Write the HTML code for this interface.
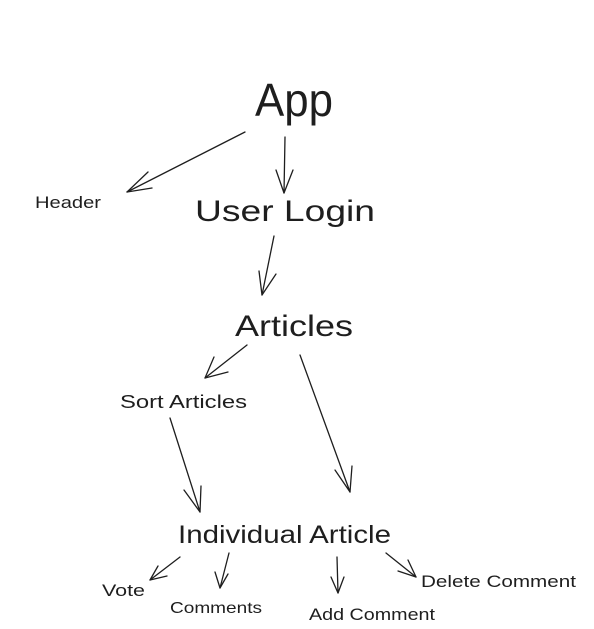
<!DOCTYPE html>
<html><head><meta charset="utf-8"><style>
html,body{margin:0;padding:0;background:#fff;}
svg{display:block;}
text{font-family:"Liberation Sans","DejaVu Sans",sans-serif;fill:#1e1e1e;}
</style></head><body>
<svg width="594" height="629" viewBox="0 0 594 629" xmlns="http://www.w3.org/2000/svg">
<g stroke="#1e1e1e" stroke-width="1.3" fill="none" stroke-linecap="round">
<path d="M245 132 L127 192"/><path d="M127 192 L148 172 M127 192 L152 188"/>
<path d="M285 137 L284 193"/><path d="M284 193 L276 170 M284 193 L293 170"/>
<path d="M274 236 L262 295"/><path d="M262 295 L259 271 M262 295 L276 274"/>
<path d="M247 345 L205 378"/><path d="M205 378 L214 357 M205 378 L228 372"/>
<path d="M300 355 L350 492"/><path d="M350 492 L335 470 M350 492 L352 466"/>
<path d="M170 418 L200 512"/><path d="M200 512 L184 490 M200 512 L201 486"/>
<path d="M180 557 L150 580"/><path d="M150 580 L158 566 M150 580 L167 576"/>
<path d="M229 553 L220 588"/><path d="M220 588 L215 572 M220 588 L228 574"/>
<path d="M337 557 L338 593"/><path d="M338 593 L331 577 M338 593 L344 577"/>
<path d="M386 553 L416 577"/><path d="M416 577 L398 571 M416 577 L408 560"/>
</g>
<g lengthAdjust="spacingAndGlyphs">
<text x="255" y="116" font-size="46" textLength="78" lengthAdjust="spacingAndGlyphs">App</text>
<text x="35" y="208" font-size="17" textLength="66" lengthAdjust="spacingAndGlyphs">Header</text>
<text x="195" y="221" font-size="30" textLength="180" lengthAdjust="spacingAndGlyphs">User Login</text>
<text x="235" y="336" font-size="30" textLength="118" lengthAdjust="spacingAndGlyphs">Articles</text>
<text x="120" y="408" font-size="18" textLength="127" lengthAdjust="spacingAndGlyphs">Sort Articles</text>
<text x="178" y="543" font-size="25" textLength="213" lengthAdjust="spacingAndGlyphs">Individual Article</text>
<text x="102" y="596" font-size="17" textLength="43" lengthAdjust="spacingAndGlyphs">Vote</text>
<text x="170" y="613" font-size="16" textLength="92" lengthAdjust="spacingAndGlyphs">Comments</text>
<text x="309" y="620" font-size="17" textLength="126" lengthAdjust="spacingAndGlyphs">Add Comment</text>
<text x="421" y="587" font-size="17" textLength="155" lengthAdjust="spacingAndGlyphs">Delete Comment</text>
</g>
</svg>
</body></html>
